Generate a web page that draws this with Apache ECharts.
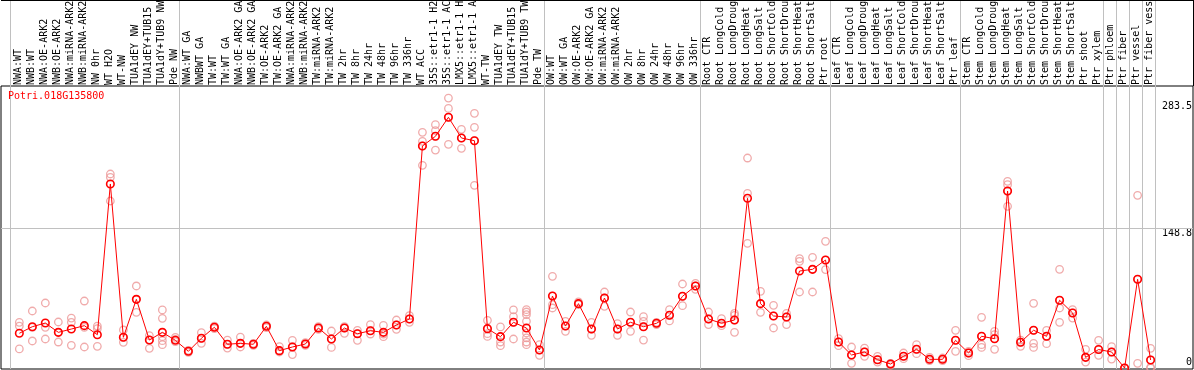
<!DOCTYPE html>
<html><head><meta charset="utf-8">
<script src="https://cdn.jsdelivr.net/npm/echarts@6/dist/echarts.min.js"></script>
<style>html,body{margin:0;padding:0;background:#fff}#c{width:1194px;height:370px}</style>
</head><body><div id="c"></div>
<script>
const geneId = 'Potri.018G135800';

const categories = [
 'NWA:WT','NWB:WT','NWA:OE-ARK2','NWB:OE-ARK2','NWA:miRNA-ARK2','NWB:miRNA-ARK2','NW 0hr','WT H2O','WT-NW','TUA1dEY NW',
 'TUA1dEY+TUB15','TUA1dY+TUB9 NW','Pde NW','NWA:WT GA','NWBWT GA','TW:WT','TW:WT GA','NWA:OE-ARK2 GA','NWB:OE-ARK2 GA','TW:OE-ARK2',
 'TW:OE-ARK2 GA','NWA:miRNA-ARK2','NWB:miRNA-ARK2','TW:miRNA-ARK2','TW:miRNA-ARK2','TW 2hr','TW 8hr','TW 24hr','TW 48hr','TW 96hr',
 'TW 336hr','WT ACC','35S::etr1-1 H2','35S::etr1-1 AC','LMX5::etr1-1 H','LMX5::etr1-1 A','WT-TW','TUA1dEY TW','TUA1dEY+TUB15','TUA1dY+TUB9 TW',
 'Pde TW','OW:WT','OW:WT GA','OW:OE-ARK2','OW:OE-ARK2 GA','OW:miRNA-ARK2','OW:miRNA-ARK2','OW 2hr','OW 8hr','OW 24hr',
 'OW 48hr','OW 96hr','OW 336hr','Root CTR','Root LongCold','Root LongDroug','Root LongHeat','Root LongSalt','Root ShortCold','Root ShortDrou',
 'Root ShortHeat','Root ShortSalt','Ptr root','Leaf CTR','Leaf LongCold','Leaf LongDroug','Leaf LongHeat','Leaf LongSalt','Leaf ShortCold','Leaf ShortDrou',
 'Leaf ShortHeat','Leaf ShortSalt','Ptr leaf','Stem CTR','Stem LongCold','Stem LongDroug','Stem LongHeat','Stem LongSalt','Stem ShortCold','Stem ShortDrou',
 'Stem ShortHeat','Stem ShortSalt','Ptr shoot','Ptr xylem','Ptr phloem','Ptr fiber','Ptr vessel','Ptr fiber vess'
];

const meanValues = [
 37.0, 44.0, 47.9, 38.0, 41.5, 45.1, 35.5, 195.8, 32.7, 73.1,
 29.8, 38.0, 29.5, 17.8, 31.7, 43.4, 25.3, 26.3, 25.3, 44.4,
 18.5, 22.4, 25.6, 42.6, 30.9, 42.6, 36.5, 39.7, 38.0, 45.8,
 52.2, 236.2, 246.5, 266.7, 244.7, 241.8, 41.9, 33.4, 48.7, 42.6,
 19.2, 76.6, 44.7, 68.5, 41.5, 74.5, 41.5, 48.7, 44.0, 47.6,
 56.1, 76.3, 87.3, 52.2, 47.6, 51.1, 180.6, 68.5, 55.4, 54.3,
 103.2, 105.0, 114.9, 27.7, 13.9, 17.1, 8.9, 4.3, 12.5, 20.0,
 9.3, 9.3, 29.5, 16.0, 33.8, 31.2, 188.3, 27.4, 40.2, 33.8,
 72.1, 58.6, 11.4, 19.7, 17.1, 0, 94.4, 8.6
];

const replicateValues = [
 [48.6,44.7,20.3],[60.7,43.3,28.8],[69.2,43.3,30.9],[49.0,38.0,27.7],[53.2,48.6,24.2],
 [71.3,43.3,22.4],[44.7,41.9,23.1],[206.4,202.9,177.7],[40.5,32.7,27.4],[87.3,73.1,59.3],
 [34.5,29.8,21.0],[61.8,52.9,33.4,29.1,24.9],[32.7,30.6,28.1],[18.9,17.8,16.7],[37.6,31.6,26.3],
 [44.7,43.3,41.9],[29.8,25.2,21.3],[33.0,26.3,22.4],[26.3,25.2,24.2],[45.8,44.4,43.0],
 [22.8,18.5,17.1],[29.5,22.8,14.3],[27.0,25.6,24.2],[44.0,42.6,41.2],[39.4,30.9,22.0],
 [44.0,42.6,36.9],[40.1,36.6,29.5],[46.2,39.8,36.2],[45.4,36.2,33.4],[51.1,45.8,41.2],
 [55.7,52.2,48.6],[250.7,241.2,236.2,215.6],[258.9,252.5,246.5,231.9],[287.2,276.2,266.7,238.0],[253.9,244.7,233.7],
 [270.9,256.0,241.9,194.4],[50.8,41.9,36.6,33.7],[43.7,33.4,27.7,23.8],[61.8,54.7,48.6,30.9],[62.1,59.6,56.8,49.7,37.3,32.0,27.7,24.9],
 [24.9,19.2,13.5],[97.6,76.6,67.4,63.9],[49.7,44.7,39.1],[70.3,68.5,67.4],[48.6,41.5,34.8],
 [80.9,74.5,65.7],[47.2,41.5,34.8],[59.6,48.6,39.1],[54.7,49.7,44.0,29.8],[48.6,47.6,46.2],
 [62.1,56.1,50.1],[89.4,76.3,66.4],[90.1,87.3,83.7],[59.6,52.2,46.2],[52.5,47.6,45.1],
 [58.2,56.1,51.1,38.0],[223.4,185.8,132.7],[81.6,68.5,59.3],[66.7,55.4,42.6],[58.2,54.3,46.2],
 [116.4,113.5,80.9],[117.8,105.0,80.9],[134.8,114.9,104.7],[31.3,27.7,23.8],[22.4,13.9,5.0],
 [21.3,17.1,12.5],[12.5,8.9,6.4],[5.0,4.3,2.9],[16.0,12.5,10.0],[24.9,19.9,15.3],
 [11.4,9.3,7.9],[10.7,9.3,7.9],[40.1,29.5,17.8],[17.8,16.0,13.2],[54.0,33.7,24.9,22.0],
 [39.1,35.5,31.3,19.9],[198.6,195.1,188.3,172.0],[29.8,27.4,23.1],[68.8,40.1,26.3,22.0],[40.1,33.7,25.9],
 [105.0,72.0,63.9,48.6],[62.1,58.6,53.2],[19.9,11.4,6.4],[29.5,19.6,13.5],[22.8,17.1,9.6],
 [0,0,0],[183.7,94.4,5.0],[21.0,8.6,0.8,0]
];

const yTickValues = [0, 148.8, 283.5];
const groupBreaks = [0, 13, 41, 53, 63, 73, 84, 85, 86, 87, 88];

const MONO = 'DejaVu Sans Mono';
const X_MIN = -1.41, X_MAX = 90.26;
const BREAK_OFFSET = 0.667;
const GRID_GREY = '#c0c0c0';

const chart = echarts.init(document.getElementById('c'), null, {renderer: 'canvas'});

const repData = [];
replicateValues.forEach((arr, i) => arr.forEach(v => repData.push([i, v])));
const meanData = meanValues.map((v, i) => [i, v]);
const vLines = groupBreaks.map(k => ({xAxis: k - BREAK_OFFSET}));

const option = {
  animation: false,
  backgroundColor: '#fff',
  title: {
    text: geneId, left: 8, top: 91, padding: 0,
    textStyle: {color: '#ff0000', fontSize: 10, fontFamily: MONO, fontWeight: 'normal'}
  },
  grid: [
    {left: 1, right: 1, top: 86, bottom: 1, show: true, borderColor: '#000', borderWidth: 1, containLabel: false, outerBoundsMode: 'none'},
    {left: 1, right: 1, top: 0, height: 86, containLabel: false, outerBoundsMode: 'none'},
    {left: 12, width: 1144, top: 0, height: 86, containLabel: false, outerBoundsMode: 'none'}
  ],
  xAxis: [
    {gridIndex: 0, type: 'value', min: X_MIN, max: X_MAX, show: false},
    {gridIndex: 1, type: 'value', min: X_MIN, max: X_MAX, show: false},
    {gridIndex: 2, type: 'category', data: categories, position: 'bottom', boundaryGap: true,
     axisLine: {show: false}, axisTick: {show: false}, splitLine: {show: false},
     axisLabel: {inside: true, rotate: 90, interval: 0, margin: 1, hideOverlap: false,
                 fontFamily: MONO, fontSize: 10, color: '#000'}}
  ],
  yAxis: [
    {gridIndex: 0, type: 'value', min: -1, max: 300, position: 'right',
     axisLine: {show: false}, axisTick: {show: false}, splitLine: {show: false},
     axisLabel: {
       inside: true, margin: 1, customValues: yTickValues, color: '#000',
       fontFamily: MONO, fontSize: 10,
       formatter: v => (v === 0 ? '{lo|' + v + '}' : '{hi|' + v + '}'),
       rich: {
         hi: {fontFamily: MONO, fontSize: 10, color: '#000', padding: [10, 0, 0, 0]},
         lo: {fontFamily: MONO, fontSize: 10, color: '#000', padding: [0, 0, 12, 0]}
       }
     }},
    {gridIndex: 1, type: 'value', min: 0, max: 1, show: false},
    {gridIndex: 2, type: 'value', min: 0, max: 1, show: false}
  ],
  series: [
    {
      type: 'scatter', xAxisIndex: 1, yAxisIndex: 1, data: [], silent: true,
      markLine: {
        silent: true, symbol: ['none', 'none'], label: {show: false}, animation: false, z: 1,
        lineStyle: {color: GRID_GREY, width: 1, type: 'solid'},
        data: vLines.concat([
          {xAxis: X_MAX, lineStyle: {color: '#000', width: 1, type: 'solid'}},
          {yAxis: 1, lineStyle: {color: '#000', width: 1, type: 'solid'}}
        ])
      }
    },
    {
      name: 'replicates', type: 'scatter', xAxisIndex: 0, yAxisIndex: 0, data: repData,
      symbol: 'circle', symbolSize: 7.5, z: 2, silent: true,
      itemStyle: {color: 'rgba(0,0,0,0)', borderColor: '#ec9696', borderWidth: 1.3},
      markLine: {
        silent: true, symbol: ['none', 'none'], label: {show: false}, animation: false, z: 1,
        lineStyle: {color: GRID_GREY, width: 1, type: 'solid'},
        data: vLines.concat([{yAxis: yTickValues[1]}])
      }
    },
    {
      name: 'mean', type: 'line', xAxisIndex: 0, yAxisIndex: 0, data: meanData,
      symbol: 'circle', symbolSize: 7.5, showSymbol: true, showAllSymbol: true, z: 3, silent: true,
      itemStyle: {color: 'rgba(0,0,0,0)', borderColor: '#ff0000', borderWidth: 1.6},
      lineStyle: {color: '#ff0000', width: 1}
    }
  ]
};
chart.setOption(option);
</script></body></html>
